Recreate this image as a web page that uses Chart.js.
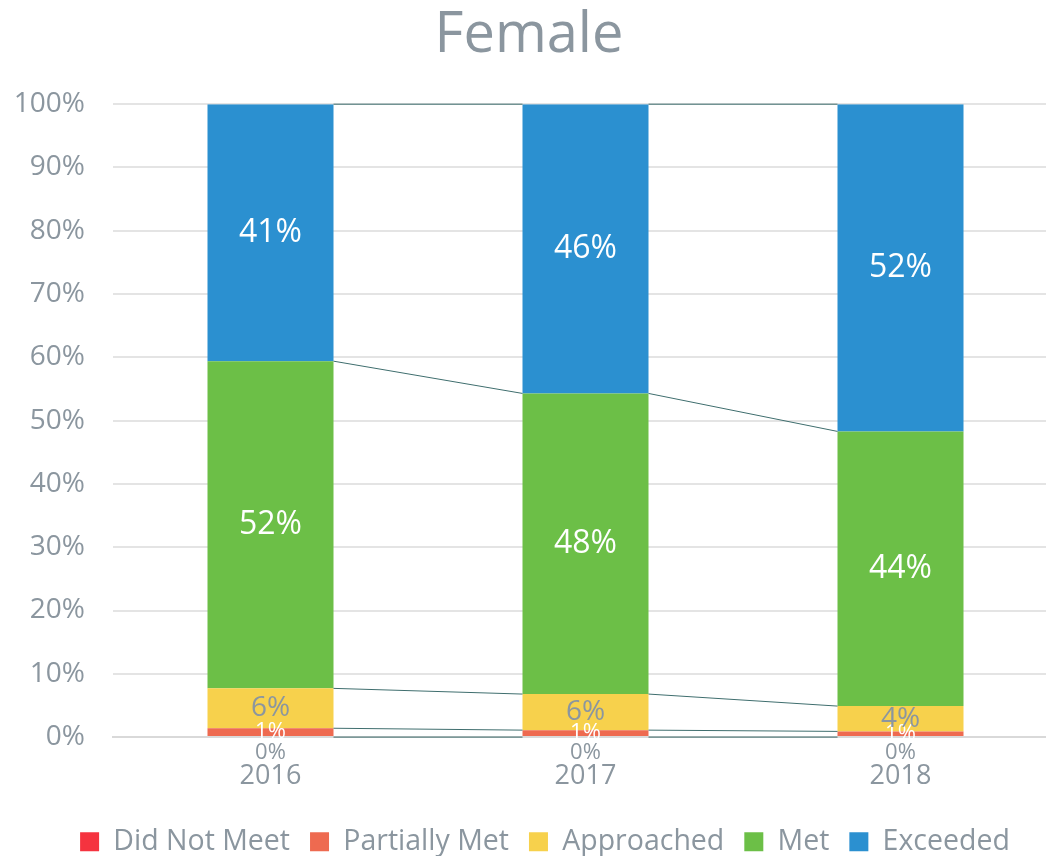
<!DOCTYPE html>
<html>
<head>
<meta charset="utf-8">
<script src="https://cdn.jsdelivr.net/npm/chart.js@4/dist/chart.umd.min.js"></script>
<style>
  html, body { margin: 0; padding: 0; background: #fff; overflow: hidden; }
  #wrap { width: 1058px; height: 856px; }
</style>
</head>
<body>
<div id="wrap"><canvas id="grafico"></canvas></div>
<script>
// Dados
const anos = ['2016', '2017', '2018'];
const naoAtingiu = [0, 0, 0];
const parcial = [1.4, 1.1, 0.9];
const aproximou = [6.3, 5.7, 4.0];
const atingiu = [51.7, 47.5, 43.4];
const superou = [40.6, 45.7, 51.7];
const rotulos = {
  naoAtingiu: ['0%', '0%', '0%'],
  parcial: ['1%', '1%', '1%'],
  aproximou: ['6%', '6%', '4%'],
  atingiu: ['52%', '48%', '44%'],
  superou: ['41%', '46%', '52%']
};
const ticksY = [0, 10, 20, 30, 40, 50, 60, 70, 80, 90, 100];

const cinza = '#8b969f';
const fonte = 'Open Sans';

// Linhas de série (estilo Excel)
const linhasSerie = {
  id: 'linhasSerie',
  afterDatasetsDraw(chart) {
    const ctx = chart.ctx;
    ctx.save();
    ctx.strokeStyle = '#3f6e6e';
    ctx.lineWidth = 1;
    chart.data.datasets.forEach((ds, i) => {
      const meta = chart.getDatasetMeta(i);
      for (let j = 0; j < meta.data.length - 1; j++) {
        const a = meta.data[j], b = meta.data[j + 1];
        ctx.beginPath();
        ctx.moveTo(a.x + a.width / 2, a.y);
        ctx.lineTo(b.x - b.width / 2, b.y);
        ctx.stroke();
      }
    });
    ctx.restore();
  }
};

// Rótulos dos segmentos
const rotulosBarras = {
  id: 'rotulosBarras',
  afterDatasetsDraw(chart) {
    const ctx = chart.ctx;
    ctx.save();
    ctx.textAlign = 'center';
    ctx.textBaseline = 'middle';
    chart.data.datasets.forEach((ds, i) => {
      const meta = chart.getDatasetMeta(i);
      meta.data.forEach((el, j) => {
        let y = (el.y + el.base) / 2;
        if (ds.offsetRotulo) y = el.base + ds.offsetRotulo;
        ctx.fillStyle = ds.corRotulo;
        ctx.font = ds.tamRotulo + 'px "' + fonte + '"';
        ctx.fillText(ds.rotulos[j], el.x, y);
      });
    });
    ctx.restore();
  }
};

// Empurra a legenda um pouco para a direita
const deslocaLegenda = {
  id: 'deslocaLegenda',
  afterUpdate(chart) {
    const lg = chart.legend;
    if (!lg) return;
    lg.left += 16;
    lg.right += 16;
    (lg.legendHitBoxes || []).forEach(h => { h.left += 16; });
  }
};

const ctx = document.getElementById('grafico');
new Chart(ctx, {
  type: 'bar',
  data: {
    labels: anos,
    datasets: [
      { label: 'Did Not Meet', data: naoAtingiu, backgroundColor: '#f5333f', rotulos: rotulos.naoAtingiu, corRotulo: cinza, tamRotulo: 22, offsetRotulo: 16 },
      { label: 'Partially Met', data: parcial, backgroundColor: '#ee6a50', rotulos: rotulos.parcial, corRotulo: '#ffffff', tamRotulo: 22 },
      { label: 'Approached', data: aproximou, backgroundColor: '#f7d14c', rotulos: rotulos.aproximou, corRotulo: cinza, tamRotulo: 28 },
      { label: 'Met', data: atingiu, backgroundColor: '#6cbf47', rotulos: rotulos.atingiu, corRotulo: '#ffffff', tamRotulo: 32 },
      { label: 'Exceeded', data: superou, backgroundColor: '#2b90d0', rotulos: rotulos.superou, corRotulo: '#ffffff', tamRotulo: 32 }
    ]
  },
  options: {
    responsive: true,
    maintainAspectRatio: false,
    animation: false,
    categoryPercentage: 0.4,
    barPercentage: 1,
    layout: { padding: { left: 0, right: 0, top: 0, bottom: -10 } },
    plugins: {
      title: {
        display: true,
        text: 'Female',
        color: cinza,
        font: { family: fonte, size: 56, weight: 'normal' },
        padding: { top: 2, bottom: 35 }
      },
      legend: {
        position: 'bottom',
        labels: {
          color: cinza,
          font: { family: fonte, size: 28.5 },
          boxWidth: 19,
          boxHeight: 19,
          padding: 20
        }
      },
      tooltip: { enabled: false }
    },
    scales: {
      x: {
        stacked: true,
        grid: { display: false },
        border: { display: true, color: '#d9d9d9', width: 2 },
        ticks: { color: cinza, font: { family: fonte, size: 27 }, padding: 15 }
      },
      y: {
        stacked: true,
        min: 0,
        max: 100,
        afterBuildTicks: axis => { axis.ticks = ticksY.map(v => ({ value: v })); },
        afterFit: axis => { axis.width = 113; },
        grid: { color: '#e4e4e4', lineWidth: 2, drawTicks: false },
        border: { display: false },
        ticks: {
          color: cinza,
          font: { family: fonte, size: 28 },
          padding: 28,
          callback: v => v + '%'
        }
      }
    }
  },
  plugins: [linhasSerie, rotulosBarras, deslocaLegenda]
});
</script>
</body>
</html>
